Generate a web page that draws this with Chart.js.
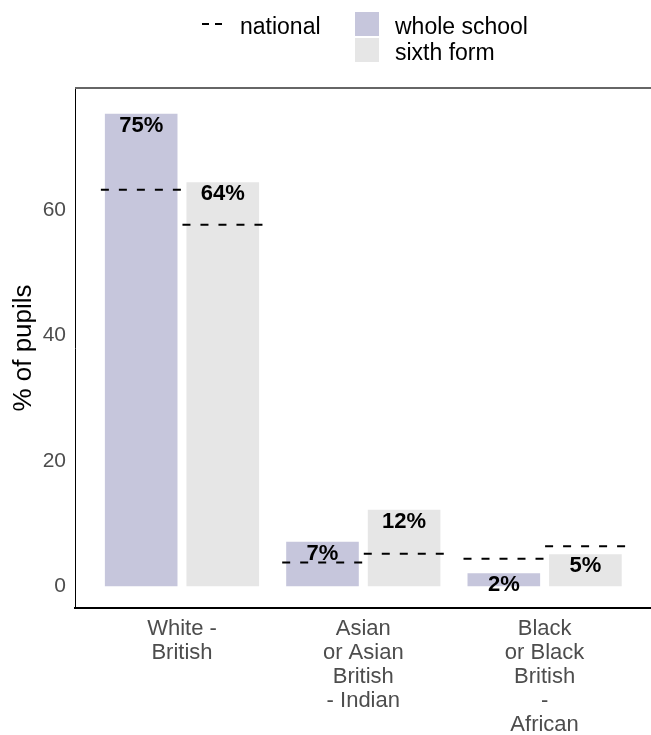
<!DOCTYPE html>
<html>
<head>
<meta charset="utf-8">
<script src="https://cdn.jsdelivr.net/npm/chart.js@4"></script>
<style>
    html, body { margin: 0; padding: 0; overflow: hidden; background: #fff; }
    body { width: 651px; height: 735px; position: relative; font-family: "Liberation Sans", Arial, sans-serif; }
    #chart-wrap { position: absolute; left: 0; top: 0; width: 700px; height: 735px; }
    .legend-text { position: absolute; font-size: 23px; line-height: 24px; color: #000; white-space: nowrap; }
    .legend-swatch { position: absolute; width: 24px; height: 24px; }
    .legend-dash { position: absolute; width: 20px; height: 2px; background: repeating-linear-gradient(90deg, #000 0 7px, transparent 7px 13px); }
</style>
</head>
<body>
<div id="chart-wrap"><canvas id="chart"></canvas></div>
<div id="legend"></div>
<script>
const categories = [
    ['White -', 'British'],
    ['Asian', 'or Asian', 'British', '- Indian'],
    ['Black', 'or Black', 'British', '-', 'African'],
];
const wholeSchool = [75.3, 7.1, 2.1];
const sixthForm = [64.4, 12.2, 5.1];
const nationalWhole = [63.2, 3.8, 4.4];
const nationalSixth = [57.6, 5.2, 6.4];
const yTicks = [0, 20, 40, 60];

const seriesNames = ['whole school', 'sixth form'];
const seriesColors = ['#c6c6dc', '#e6e6e6'];
const nationalName = 'national';
const fontFamily = '"Liberation Sans", Arial, sans-serif';

// legend, laid out like the ggplot one
const legend = document.getElementById('legend');
legend.innerHTML = `
    <div class="legend-dash" style="left:202px;top:23px"></div>
    <div class="legend-text" style="left:240px;top:14px">${nationalName}</div>
    <div class="legend-swatch" style="left:355px;top:12px;background:${seriesColors[0]}"></div>
    <div class="legend-swatch" style="left:355px;top:38px;background:${seriesColors[1]}"></div>
    <div class="legend-text" style="left:395px;top:14px">${seriesNames[0]}</div>
    <div class="legend-text" style="left:395px;top:40px">${seriesNames[1]}</div>
`;

const nationalBySeries = [nationalWhole, nationalSixth];

const overlay = {
    id: 'overlay',
    afterDatasetsDraw(chart) {
        const { ctx, chartArea, scales } = chart;
        ctx.save();

        // top panel line
        ctx.strokeStyle = '#666';
        ctx.lineWidth = 2;
        ctx.beginPath();
        ctx.moveTo(chartArea.left, chartArea.top);
        ctx.lineTo(chart.width, chartArea.top);
        ctx.stroke();

        // national dashed markers
        ctx.strokeStyle = '#000';
        ctx.lineWidth = 2;
        ctx.setLineDash([8, 10]);
        chart.data.datasets.forEach((ds, d) => {
            chart.getDatasetMeta(d).data.forEach((bar, i) => {
                const half = bar.width / 2 + 4;
                const py = scales.y.getPixelForValue(nationalBySeries[d][i]);
                ctx.beginPath();
                ctx.moveTo(bar.x - half, py);
                ctx.lineTo(bar.x + half, py);
                ctx.stroke();
            });
        });
        ctx.setLineDash([]);

        // value labels
        ctx.fillStyle = '#000';
        ctx.font = `bold 22px ${fontFamily}`;
        ctx.textAlign = 'center';
        ctx.textBaseline = 'middle';
        chart.data.datasets.forEach((ds, d) => {
            chart.getDatasetMeta(d).data.forEach((bar, i) => {
                ctx.fillText(Math.round(ds.data[i].y) + '%', bar.x, bar.y + 12);
            });
        });
        ctx.restore();
    },
};

new Chart(document.getElementById('chart'), {
    type: 'bar',
    data: {
        datasets: [
            {
                label: seriesNames[0],
                data: wholeSchool.map((v, i) => ({ x: i + 1, y: v })),
                backgroundColor: seriesColors[0],
            },
            {
                label: seriesNames[1],
                data: sixthForm.map((v, i) => ({ x: i + 1, y: v })),
                backgroundColor: seriesColors[1],
            },
        ],
    },
    options: {
        responsive: true,
        maintainAspectRatio: false,
        animation: false,
        categoryPercentage: 0.9,
        barPercentage: 0.89,
        layout: { padding: { top: 88, right: 46.6, left: 0, bottom: 0 } },
        plugins: {
            legend: { display: false },
            tooltip: { enabled: false },
        },
        scales: {
            x: {
                type: 'linear',
                min: 0.41,
                max: 3.6,
                offset: false,
                grid: { display: false, drawTicks: false },
                border: { display: true, color: '#000', width: 2 },
                afterBuildTicks: (scale) => {
                    scale.ticks = categories.map((_, i) => ({ value: i + 1 }));
                },
                afterFit: (scale) => { scale.height = 127; },
                ticks: {
                    autoSkip: false,
                    maxRotation: 0,
                    padding: 9,
                    color: '#4d4d4d',
                    font: { family: fontFamily, size: 22, lineHeight: 24 / 22 },
                    callback: (value) => categories[value - 1],
                },
            },
            y: {
                min: -3.45,
                max: 79.4,
                grid: { display: false, drawTicks: false },
                border: { display: true, color: '#000', width: 1 },
                afterBuildTicks: (scale) => {
                    scale.ticks = yTicks.map((v) => ({ value: v }));
                },
                afterFit: (scale) => { scale.width = 75; },
                ticks: {
                    padding: 9,
                    color: '#4d4d4d',
                    font: { family: fontFamily, size: 21 },
                },
                title: {
                    display: true,
                    text: '% of pupils',
                    color: '#000',
                    padding: { top: 8, bottom: 0 },
                    font: { family: fontFamily, size: 26 },
                },
            },
        },
    },
    plugins: [overlay],
});
</script>
</body>
</html>
